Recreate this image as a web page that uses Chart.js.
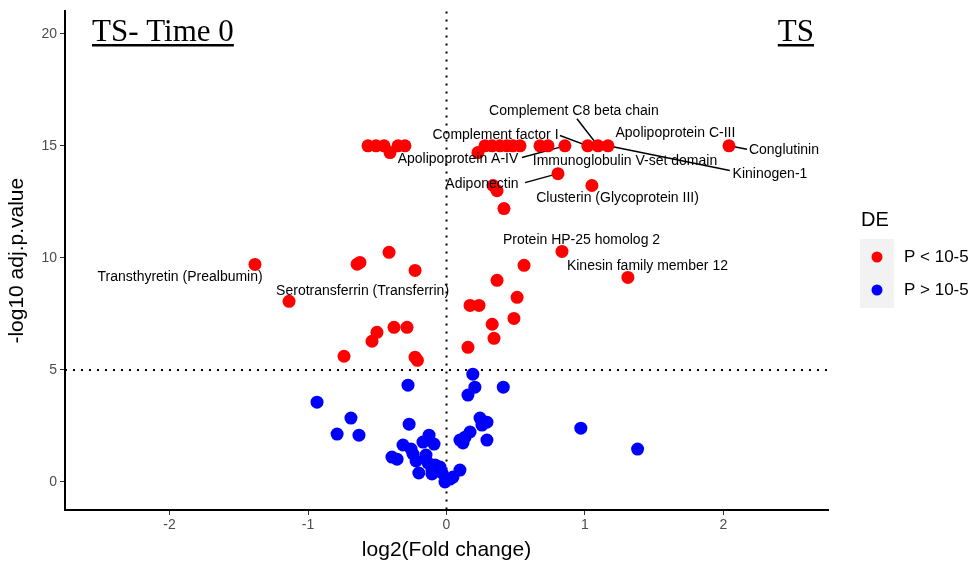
<!DOCTYPE html>
<html lang="en">
<head>
    <meta charset="UTF-8">
    <title>Volcano plot - TS Time 0</title>
    <script src="https://cdn.jsdelivr.net/npm/chart.js"></script>
    <style>
        body { margin: 0; background: #fff; }
        #chartContainer { width: 974px; height: 565px; }
    </style>
</head>
<body>
    <div id="chartContainer">
        <canvas id="volcano" width="974" height="565"></canvas>
    </div>

    <script>
        // significant proteins (P < 10-5)
        const redX = [-0.567, -0.509, -0.451, -0.408, -0.35, -0.3,
            0.227, 0.278, 0.329, 0.386, 0.437, 0.48, 0.531, 0.675, 0.733, 0.855, 1.02, 1.094, 1.166, 2.04,
            0.805, 0.336, 0.365, 0.415, 1.05, 0.834, 0.56, 1.31, 0.365, 0.51, 0.17, 0.235, 0.487, 0.33, 0.343, 0.155,
            -0.227, -0.285, -0.379, -0.227, -0.21, -1.383, -1.137, -0.645, -0.625, -0.415, -0.502, -0.538, -0.74];
        const redY = [15, 15, 15, 14.7, 15, 15,
            14.7, 15, 15, 15, 15, 15, 15, 15, 15, 15, 15, 15, 15, 15,
            13.76, 13.23, 13.0, 12.2, 13.23, 10.29, 9.67, 9.13, 9.0, 8.24, 7.88, 7.88, 7.3, 7.04, 6.41, 6.01,
            9.44, 6.9, 6.9, 5.57, 5.43, 9.71, 8.06, 9.72, 9.8, 10.25, 6.68, 6.28, 5.61];

        // non significant proteins (P > 10-5)
        const blueX = [0.19, 0.205, 0.155, -0.278, -0.935, -0.69, -0.79, -0.632, -0.27, 0.242, 0.292, 0.256, 0.292,
            0.17, 0.134, 0.097, 0.119, -0.126, -0.17, -0.09, -0.314, -0.256, -0.242, -0.394, -0.357, -0.22, -0.148,
            -0.134, -0.083, -0.047, -0.105, -0.2, -0.105, -0.032, -0.011, 0.047, 0.097, 0.025, 0.41, 0.97, 1.38];
        const blueY = [4.81, 4.23, 3.88, 4.32, 3.56, 2.85, 2.14, 2.09, 2.58, 2.85, 2.67, 2.54, 1.87,
            2.23, 2.0, 1.87, 1.74, 2.09, 1.78, 1.69, 1.65, 1.47, 1.25, 1.11, 1.02, 0.94, 1.2,
            0.85, 0.76, 0.67, 0.53, 0.4, 0.36, 0.4, 0.0, 0.22, 0.53, 0.13, 4.23, 2.4, 1.47];

        // protein labels: text position, optional segment start and target point
        const labelText = ['Transthyretin (Prealbumin)', 'Serotransferrin (Transferrin)', 'Complement C8 beta chain',
            'Complement factor I', 'Apolipoprotein C-III', 'Conglutinin', 'Apolipoprotein A-IV',
            'Immunoglobulin V-set domain', 'Kininogen-1', 'Adiponectin', 'Clusterin (Glycoprotein III)',
            'Protein HP-25 homolog 2', 'Kinesin family member 12'];
        const labelX = [-1.924, -0.606, 0.92, 0.354, 1.653, 2.437, 0.083, 1.289, 2.336, 0.256, 1.235, 0.975, 1.451];
        const labelY = [9.13, 8.51, 16.57, 15.5, 15.55, 14.83, 14.39, 14.34, 13.76, 13.27, 12.65, 10.78, 9.62];
        const segFrom = [null, null, [0.942, 16.21], [0.819, 15.46], null, [2.17, 14.85], [0.545, 14.48],
            null, [2.046, 13.9], [0.567, 13.36], null, null, null];
        const segTo = [null, null, [1.094, 15], [1.02, 15], null, [2.04, 15], [0.855, 15],
            null, [1.166, 15], [0.805, 13.76], null, null, null];

        const xTicks = [-2, -1, 0, 1, 2];
        const yTicks = [0, 5, 10, 15, 20];
        const fcCut = 0;
        const pCut = 5;

        const sans = '"Liberation Sans", Arial, sans-serif';
        const serif = '"Liberation Serif", "Times New Roman", serif';

        const toPoints = (xs, ys) => xs.map((x, i) => ({ x: x, y: ys[i] }));

        const overlay = {
            id: 'overlay',
            beforeDatasetsDraw(chart) {
                const { ctx, chartArea: a, scales: { x, y } } = chart;
                ctx.save();
                // dotted threshold lines
                ctx.strokeStyle = '#000';
                ctx.lineWidth = 2;
                ctx.setLineDash([2, 6]);
                ctx.beginPath();
                ctx.moveTo(x.getPixelForValue(fcCut), a.top);
                ctx.lineTo(x.getPixelForValue(fcCut), a.bottom);
                ctx.moveTo(a.left, y.getPixelForValue(pCut));
                ctx.lineTo(a.right, y.getPixelForValue(pCut));
                ctx.stroke();
                ctx.setLineDash([]);
                // label segments
                ctx.lineWidth = 1.5;
                ctx.beginPath();
                segFrom.forEach((s, i) => {
                    if (!s) return;
                    ctx.moveTo(x.getPixelForValue(s[0]), y.getPixelForValue(s[1]));
                    ctx.lineTo(x.getPixelForValue(segTo[i][0]), y.getPixelForValue(segTo[i][1]));
                });
                ctx.stroke();
                ctx.restore();
            },
            afterDatasetsDraw(chart) {
                const { ctx, scales: { x, y } } = chart;
                ctx.save();
                ctx.fillStyle = '#000';
                ctx.font = '14px ' + sans;
                ctx.textAlign = 'center';
                ctx.textBaseline = 'middle';
                labelText.forEach((t, i) => {
                    ctx.fillText(t, x.getPixelForValue(labelX[i]), y.getPixelForValue(labelY[i]));
                });

                // panel titles
                ctx.font = '31px ' + serif;
                ctx.textBaseline = 'alphabetic';
                ctx.textAlign = 'left';
                const t1 = 'TS- Time 0';
                ctx.fillText(t1, 92, 41);
                let w = ctx.measureText(t1).width;
                ctx.fillRect(92, 44, w, 2.5);
                ctx.textAlign = 'right';
                ctx.fillText('TS', 814, 41);
                w = ctx.measureText('TS').width;
                ctx.fillRect(814 - w, 44, w, 2.5);

                // legend
                ctx.textAlign = 'left';
                ctx.textBaseline = 'middle';
                ctx.font = '20px ' + sans;
                ctx.fillText('DE', 861, 220);
                ctx.fillStyle = '#F2F2F2';
                ctx.fillRect(860, 239, 34, 69);
                const keys = [['red', 'P < 10-5', 257], ['blue', 'P > 10-5', 290]];
                keys.forEach(k => {
                    ctx.fillStyle = k[0];
                    ctx.beginPath();
                    ctx.arc(877, k[2], 5.5, 0, Math.PI * 2);
                    ctx.fill();
                    ctx.fillStyle = '#000';
                    ctx.font = '17px ' + sans;
                    ctx.fillText(k[1], 904, k[2]);
                });
                ctx.restore();
            }
        };

        const ctx = document.getElementById('volcano').getContext('2d');
        new Chart(ctx, {
            type: 'scatter',
            data: {
                datasets: [
                    {
                        label: 'P < 10-5',
                        data: toPoints(redX, redY),
                        backgroundColor: '#FF0000',
                        borderWidth: 0,
                        pointRadius: 6.5
                    },
                    {
                        label: 'P > 10-5',
                        data: toPoints(blueX, blueY),
                        backgroundColor: '#0000FF',
                        borderWidth: 0,
                        pointRadius: 6.5
                    }
                ]
            },
            options: {
                responsive: false,
                animation: false,
                maintainAspectRatio: false,
                layout: { padding: { top: 10, right: 146, left: 0, bottom: 0 } },
                plugins: {
                    legend: { display: false },
                    tooltip: { enabled: false }
                },
                scales: {
                    x: {
                        type: 'linear',
                        min: -2.755,
                        max: 2.755,
                        afterBuildTicks: s => { s.ticks = xTicks.map(v => ({ value: v })); },
                        afterFit: s => { s.height = 55; },
                        grid: { drawOnChartArea: false, tickLength: 5, color: '#333', lineWidth: 1 },
                        border: { color: '#000', width: 2 },
                        ticks: { color: '#4D4D4D', font: { family: sans, size: 14 }, padding: 2 },
                        title: {
                            display: true,
                            text: 'log2(Fold change)',
                            color: '#000',
                            font: { family: sans, size: 21 },
                            padding: { top: 0, bottom: 2 }
                        }
                    },
                    y: {
                        type: 'linear',
                        min: -1.25,
                        max: 21,
                        afterBuildTicks: s => { s.ticks = yTicks.map(v => ({ value: v })); },
                        afterFit: s => { s.width = 65; },
                        grid: { drawOnChartArea: false, tickLength: 5, color: '#333', lineWidth: 1 },
                        border: { color: '#000', width: 2 },
                        ticks: { color: '#4D4D4D', font: { family: sans, size: 14 }, padding: 3 },
                        title: {
                            display: true,
                            text: '-log10 adj.p.value',
                            color: '#000',
                            font: { family: sans, size: 21 },
                            padding: { top: 5, bottom: 0 }
                        }
                    }
                }
            },
            plugins: [overlay]
        });
    </script>
</body>
</html>
